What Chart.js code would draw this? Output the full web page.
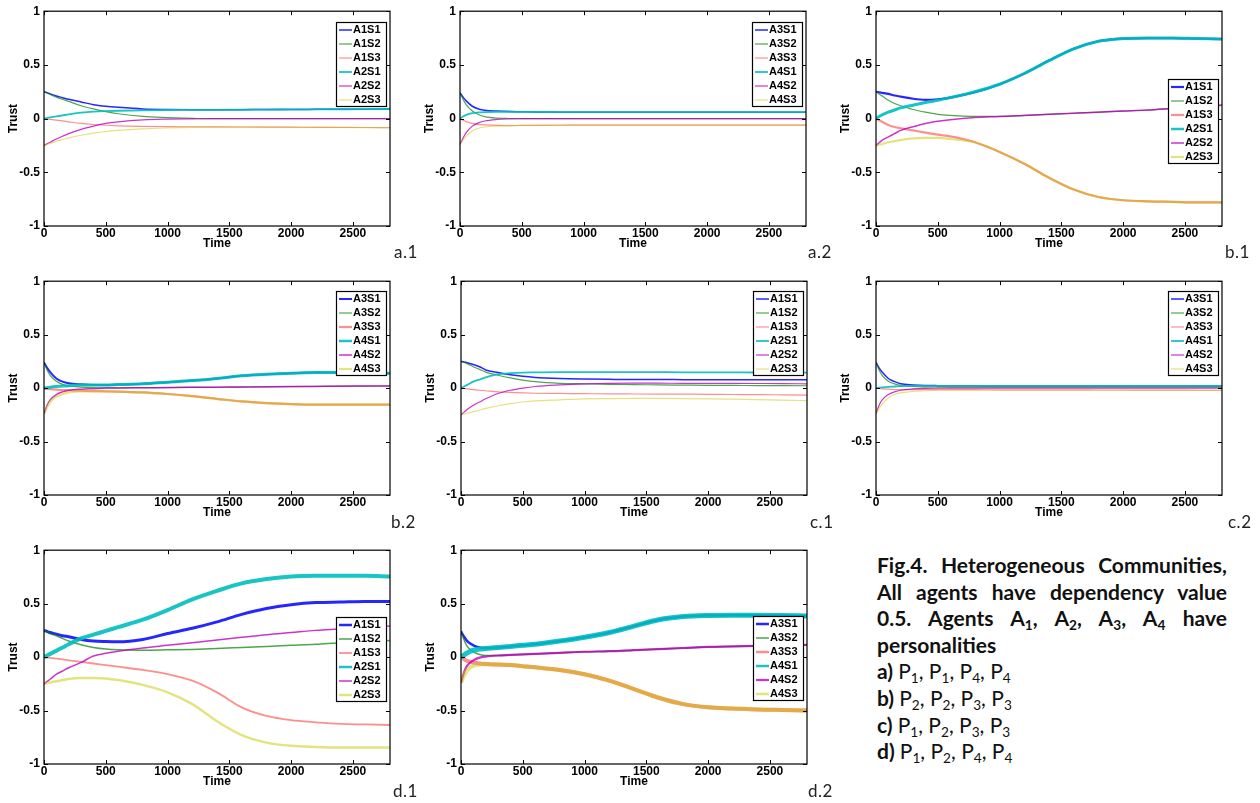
<!DOCTYPE html>
<html>
<head>
<meta charset="utf-8">
<title>Fig.4 Heterogeneous Communities</title>
<script src="https://cdn.jsdelivr.net/npm/chart.js@4.4.1/dist/chart.umd.min.js"></script>
<style>
  html, body { margin: 0; padding: 0; background: #fff; }
  #page { position: relative; width: 1260px; height: 803px; overflow: hidden; }
  #page canvas { position: absolute; }
  .tag { position: absolute; font: 17px "Lato", sans-serif; color: #222; line-height: 1; letter-spacing: 0.5px; }
  #caption { position: absolute; left: 877px; top: 552px; width: 350px; font: bold 21px "Lato", sans-serif; line-height: 26.6px; color: #111; }
  #caption .j { text-align: justify; text-align-last: justify; }
  #caption .n { font-weight: normal; }
  #caption sub { font-size: 0.65em; vertical-align: -0.3em; line-height: 0; }
</style>
</head>
<body>
<div id="page">
  <div id="caption">
    <div class="j">Fig.4. Heterogeneous Communities,</div>
    <div class="j">All agents have dependency value</div>
    <div class="j">0.5. Agents A<sub>1</sub>, A<sub>2</sub>, A<sub>3</sub>, A<sub>4</sub> have</div>
    <div>personalities</div>
    <div>a) <span class="n">P<sub>1</sub>, P<sub>1</sub>, P<sub>4</sub>, P<sub>4</sub></span></div>
    <div>b) <span class="n">P<sub>2</sub>, P<sub>2</sub>, P<sub>3</sub>, P<sub>3</sub></span></div>
    <div>c) <span class="n">P<sub>1</sub>, P<sub>2</sub>, P<sub>3</sub>, P<sub>3</sub></span></div>
    <div>d) <span class="n">P<sub>1</sub>, P<sub>2</sub>, P<sub>4</sub>, P<sub>4</sub></span></div>
  </div>
</div>
<script>
// === DATA ===
const times = [0, 25, 50, 100, 150, 200, 300, 400, 500, 600, 800, 1000, 1200, 1400, 1600, 1800, 2000, 2200, 2400, 2600, 2800];
const timeTicks = [0, 500, 1000, 1500, 2000, 2500];
const trustTicks = [-1, -0.5, 0, 0.5, 1];

const namesA12 = ["A1S1", "A1S2", "A1S3", "A2S1", "A2S2", "A2S3"];
const namesA34 = ["A3S1", "A3S2", "A3S3", "A4S1", "A4S2", "A4S3"];

const trustA1 = [
  [0.25, 0.24, 0.23, 0.21, 0.195, 0.18, 0.155, 0.13, 0.115, 0.105, 0.09, 0.085, 0.083, 0.083, 0.083, 0.085, 0.085, 0.086, 0.087, 0.088, 0.09],
  [0.25, 0.24, 0.225, 0.2, 0.18, 0.16, 0.12, 0.09, 0.065, 0.045, 0.02, 0.01, 0.003, 0, 0, 0, 0, 0, 0, 0, 0],
  [0, -0.004, -0.008, -0.015, -0.022, -0.03, -0.045, -0.055, -0.062, -0.067, -0.072, -0.075, -0.076, -0.077, -0.078, -0.079, -0.08, -0.081, -0.082, -0.083, -0.085],
  [0, 0.006, 0.011, 0.02, 0.03, 0.04, 0.055, 0.065, 0.07, 0.073, 0.077, 0.08, 0.081, 0.082, 0.083, 0.084, 0.085, 0.086, 0.087, 0.088, 0.09],
  [-0.25, -0.235, -0.22, -0.19, -0.165, -0.14, -0.1, -0.07, -0.045, -0.03, -0.012, -0.005, -0.002, 0, 0, 0, 0, 0, 0, 0, 0],
  [-0.25, -0.24, -0.232, -0.21, -0.195, -0.18, -0.155, -0.135, -0.12, -0.11, -0.095, -0.087, -0.082, -0.08, -0.08, -0.08, -0.081, -0.082, -0.083, -0.084, -0.085]
];

const trustA2 = [
  [0.24, 0.2, 0.165, 0.115, 0.09, 0.078, 0.07, 0.066, 0.064, 0.062, 0.06, 0.06, 0.06, 0.06, 0.06, 0.06, 0.06, 0.06, 0.06, 0.06, 0.06],
  [0.24, 0.18, 0.13, 0.07, 0.038, 0.018, 0.004, 0.001, 0, 0, 0, 0, 0, 0, 0, 0, 0, 0, 0, 0, 0],
  [0, -0.015, -0.028, -0.045, -0.054, -0.059, -0.064, -0.065, -0.064, -0.063, -0.062, -0.06, -0.06, -0.06, -0.06, -0.06, -0.06, -0.06, -0.06, -0.06, -0.06],
  [0, 0.02, 0.034, 0.05, 0.057, 0.061, 0.064, 0.064, 0.063, 0.062, 0.061, 0.06, 0.06, 0.06, 0.06, 0.06, 0.06, 0.06, 0.06, 0.06, 0.06],
  [-0.24, -0.18, -0.13, -0.07, -0.04, -0.022, -0.008, -0.003, -0.001, 0, 0, 0, 0, 0, 0, 0, 0, 0, 0, 0, 0],
  [-0.24, -0.2, -0.165, -0.115, -0.09, -0.078, -0.07, -0.066, -0.064, -0.062, -0.061, -0.06, -0.06, -0.06, -0.06, -0.06, -0.06, -0.06, -0.06, -0.06, -0.06]
];

const trustB1 = [
  [0.25, 0.245, 0.24, 0.23, 0.215, 0.205, 0.185, 0.175, 0.18, 0.195, 0.245, 0.32, 0.42, 0.54, 0.65, 0.72, 0.745, 0.75, 0.75, 0.745, 0.74],
  [0.25, 0.23, 0.21, 0.17, 0.14, 0.12, 0.085, 0.06, 0.04, 0.03, 0.02, 0.02, 0.03, 0.04, 0.05, 0.06, 0.07, 0.08, 0.095, 0.11, 0.125],
  [0, -0.015, -0.03, -0.06, -0.078, -0.09, -0.11, -0.13, -0.15, -0.165, -0.22, -0.31, -0.42, -0.55, -0.66, -0.73, -0.76, -0.77, -0.775, -0.78, -0.78],
  [0, 0.02, 0.035, 0.06, 0.08, 0.1, 0.125, 0.15, 0.17, 0.195, 0.25, 0.32, 0.42, 0.54, 0.65, 0.72, 0.745, 0.75, 0.75, 0.745, 0.74],
  [-0.25, -0.225, -0.2, -0.17, -0.14, -0.11, -0.075, -0.045, -0.025, -0.01, 0.01, 0.02, 0.03, 0.04, 0.05, 0.06, 0.07, 0.08, 0.095, 0.11, 0.125],
  [-0.25, -0.243, -0.237, -0.22, -0.21, -0.2, -0.185, -0.18, -0.18, -0.19, -0.22, -0.31, -0.42, -0.55, -0.66, -0.73, -0.76, -0.77, -0.775, -0.78, -0.78]
];

const trustB2 = [
  [0.24, 0.19, 0.15, 0.09, 0.06, 0.045, 0.035, 0.03, 0.03, 0.033, 0.04, 0.055, 0.07, 0.09, 0.115, 0.13, 0.14, 0.145, 0.145, 0.145, 0.14],
  [0.24, 0.17, 0.12, 0.065, 0.035, 0.02, 0.01, 0.005, 0.003, 0.003, 0.004, 0.005, 0.007, 0.008, 0.01, 0.012, 0.014, 0.016, 0.018, 0.019, 0.02],
  [0, -0.005, -0.01, -0.015, -0.018, -0.02, -0.025, -0.028, -0.03, -0.033, -0.04, -0.055, -0.075, -0.1, -0.125, -0.14, -0.15, -0.155, -0.155, -0.155, -0.155],
  [0, 0.004, 0.008, 0.014, 0.019, 0.023, 0.028, 0.03, 0.03, 0.033, 0.04, 0.055, 0.07, 0.09, 0.115, 0.13, 0.14, 0.145, 0.145, 0.145, 0.14],
  [-0.24, -0.16, -0.11, -0.06, -0.035, -0.02, -0.01, -0.005, 0, 0.001, 0.003, 0.005, 0.007, 0.008, 0.01, 0.012, 0.014, 0.016, 0.018, 0.019, 0.02],
  [-0.24, -0.18, -0.13, -0.08, -0.055, -0.04, -0.03, -0.03, -0.03, -0.033, -0.04, -0.055, -0.075, -0.1, -0.125, -0.14, -0.15, -0.155, -0.155, -0.155, -0.155]
];

const trustC1 = [
  [0.25, 0.245, 0.238, 0.22, 0.2, 0.17, 0.145, 0.125, 0.11, 0.1, 0.09, 0.085, 0.082, 0.08, 0.08, 0.079, 0.078, 0.078, 0.077, 0.077, 0.077],
  [0.25, 0.24, 0.228, 0.2, 0.175, 0.15, 0.12, 0.095, 0.075, 0.06, 0.045, 0.04, 0.035, 0.033, 0.03, 0.028, 0.026, 0.025, 0.024, 0.023, 0.022],
  [0, -0.004, -0.008, -0.015, -0.02, -0.025, -0.035, -0.04, -0.045, -0.048, -0.05, -0.052, -0.054, -0.055, -0.056, -0.057, -0.058, -0.06, -0.061, -0.063, -0.065],
  [0, 0.015, 0.03, 0.06, 0.08, 0.1, 0.13, 0.14, 0.145, 0.147, 0.15, 0.15, 0.15, 0.15, 0.149, 0.148, 0.148, 0.147, 0.146, 0.146, 0.145],
  [-0.25, -0.225, -0.2, -0.16, -0.13, -0.1, -0.05, -0.02, 0, 0.015, 0.03, 0.04, 0.045, 0.046, 0.046, 0.045, 0.045, 0.044, 0.043, 0.042, 0.04],
  [-0.25, -0.242, -0.235, -0.22, -0.205, -0.19, -0.165, -0.145, -0.13, -0.12, -0.11, -0.1, -0.098, -0.097, -0.097, -0.098, -0.1, -0.103, -0.107, -0.112, -0.118]
];

const trustC2 = [
  [0.24, 0.19, 0.15, 0.09, 0.06, 0.04, 0.03, 0.025, 0.023, 0.022, 0.021, 0.02, 0.02, 0.02, 0.02, 0.02, 0.02, 0.02, 0.02, 0.02, 0.02],
  [0.24, 0.17, 0.12, 0.065, 0.04, 0.025, 0.015, 0.012, 0.011, 0.01, 0.01, 0.01, 0.01, 0.01, 0.01, 0.01, 0.01, 0.01, 0.01, 0.01, 0.01],
  [0, -0.004, -0.007, -0.01, -0.013, -0.015, -0.015, -0.015, -0.015, -0.015, -0.015, -0.016, -0.016, -0.017, -0.017, -0.018, -0.018, -0.019, -0.019, -0.02, -0.02],
  [0, 0.004, 0.007, 0.012, 0.015, 0.018, 0.02, 0.02, 0.02, 0.02, 0.02, 0.02, 0.02, 0.02, 0.02, 0.02, 0.02, 0.02, 0.02, 0.02, 0.02],
  [-0.24, -0.16, -0.11, -0.06, -0.035, -0.02, -0.008, -0.003, -0.001, 0, 0, 0, 0, 0, 0, 0, 0, 0, 0, 0, 0],
  [-0.24, -0.19, -0.15, -0.09, -0.06, -0.045, -0.03, -0.025, -0.02, -0.02, -0.02, -0.02, -0.02, -0.02, -0.02, -0.02, -0.02, -0.02, -0.02, -0.02, -0.02]
];

const trustD1 = [
  [0.25, 0.24, 0.23, 0.215, 0.2, 0.19, 0.165, 0.15, 0.145, 0.143, 0.165, 0.22, 0.27, 0.33, 0.4, 0.455, 0.49, 0.51, 0.515, 0.52, 0.52],
  [0.25, 0.235, 0.22, 0.2, 0.175, 0.15, 0.115, 0.09, 0.075, 0.068, 0.065, 0.068, 0.072, 0.08, 0.09, 0.1, 0.11, 0.12, 0.135, 0.145, 0.155],
  [0, -0.004, -0.008, -0.015, -0.022, -0.03, -0.045, -0.06, -0.075, -0.09, -0.12, -0.16, -0.22, -0.33, -0.47, -0.55, -0.59, -0.61, -0.625, -0.63, -0.635],
  [0, 0.015, 0.03, 0.06, 0.09, 0.12, 0.175, 0.21, 0.245, 0.28, 0.35, 0.44, 0.54, 0.62, 0.69, 0.73, 0.755, 0.76, 0.76, 0.76, 0.755],
  [-0.25, -0.228, -0.207, -0.16, -0.13, -0.1, -0.05, 0.01, 0.035, 0.055, 0.085, 0.11, 0.135, 0.16, 0.185, 0.21, 0.23, 0.25, 0.265, 0.278, 0.29],
  [-0.25, -0.243, -0.237, -0.225, -0.215, -0.205, -0.195, -0.195, -0.2, -0.215, -0.26, -0.33, -0.44, -0.6, -0.73, -0.8, -0.83, -0.84, -0.845, -0.845, -0.845]
];

const trustD2 = [
  [0.24, 0.19, 0.15, 0.11, 0.09, 0.085, 0.09, 0.1, 0.11, 0.12, 0.15, 0.185, 0.23, 0.29, 0.35, 0.38, 0.39, 0.392, 0.392, 0.39, 0.385],
  [0.24, 0.16, 0.1, 0.05, 0.025, 0.015, 0.015, 0.02, 0.025, 0.03, 0.04, 0.05, 0.055, 0.065, 0.075, 0.085, 0.095, 0.1, 0.105, 0.11, 0.115],
  [0, -0.02, -0.035, -0.05, -0.06, -0.065, -0.07, -0.075, -0.085, -0.095, -0.12, -0.16, -0.22, -0.3, -0.38, -0.44, -0.47, -0.48, -0.49, -0.495, -0.5],
  [0, 0.02, 0.04, 0.065, 0.075, 0.08, 0.09, 0.1, 0.11, 0.12, 0.15, 0.185, 0.23, 0.29, 0.35, 0.38, 0.39, 0.392, 0.392, 0.39, 0.385],
  [-0.24, -0.14, -0.08, -0.03, -0.005, 0.005, 0.015, 0.02, 0.025, 0.03, 0.04, 0.05, 0.055, 0.065, 0.075, 0.085, 0.095, 0.1, 0.105, 0.11, 0.115],
  [-0.24, -0.17, -0.12, -0.08, -0.07, -0.068, -0.07, -0.075, -0.085, -0.095, -0.12, -0.16, -0.22, -0.3, -0.38, -0.44, -0.47, -0.48, -0.49, -0.495, -0.5]
];

// === STYLE ===
const seriesColors = [
  "rgba(0, 0, 255, 0.85)",
  "rgba(0, 128, 0, 0.7)",
  "rgba(255, 50, 50, 0.55)",
  "rgba(0, 190, 190, 0.9)",
  "rgba(190, 0, 190, 0.8)",
  "rgba(200, 200, 0, 0.5)"
];
const thin = [1.5, 1.2, 1.2, 1.8, 1.2, 1.2];
const tickFont = { family: "'Liberation Sans', Arial, sans-serif", size: 12, weight: "bold" };

// plot box = [left, top, right, bottom] in page pixels
const panels = [
  { tag: "a.1", names: namesA12, values: trustA1, box: [44, 8, 390, 226], legendTop: 11, widths: thin, tagAt: [394, 243] },
  { tag: "a.2", names: namesA34, values: trustA2, box: [460, 8, 806, 226], legendTop: 11, widths: thin, tagAt: [808, 243] },
  { tag: "b.1", names: namesA12, values: trustB1, box: [876, 8, 1222, 226], legendTop: 68, widths: [2.2, 1.2, 2.2, 3, 1.5, 2.2], tagAt: [1225, 243] },
  { tag: "b.2", names: namesA34, values: trustB2, box: [44, 278, 390, 495], legendTop: 10, widths: [2, 1.2, 2.2, 3, 1.5, 2.2], tagAt: [391, 513] },
  { tag: "c.1", names: namesA12, values: trustC1, box: [461, 278, 807, 495], legendTop: 10, widths: thin, tagAt: [810, 513] },
  { tag: "c.2", names: namesA34, values: trustC2, box: [876, 278, 1222, 495], legendTop: 10, widths: thin, tagAt: [1228, 513] },
  { tag: "d.1", names: namesA12, values: trustD1, box: [44, 547, 390, 764], legendTop: 67, widths: [3, 1.5, 1.8, 4, 1.5, 2.5], tagAt: [393, 782] },
  { tag: "d.2", names: namesA34, values: trustD2, box: [461, 547, 807, 764], legendTop: 66, widths: [2.5, 1.5, 4, 5, 2.2, 4], tagAt: [808, 782] }
];

// === PLUGINS ===
const frameTicks = {
  id: "frameTicks",
  afterDraw(chart) {
    const { ctx, chartArea: a, scales } = chart;
    const line = (x1, y1, x2, y2) => { ctx.beginPath(); ctx.moveTo(x1, y1); ctx.lineTo(x2, y2); ctx.stroke(); };
    ctx.save();
    ctx.strokeStyle = "#000";
    ctx.lineWidth = 1.2;
    ctx.strokeRect(a.left, a.top, a.right - a.left, a.bottom - a.top);
    ctx.lineWidth = 1;
    scales.x.ticks.forEach(t => {
      const px = Math.round(scales.x.getPixelForValue(t.value)) + 0.5;
      line(px, a.bottom, px, a.bottom - 4);
      line(px, a.top, px, a.top + 4);
    });
    scales.y.ticks.forEach(t => {
      const py = Math.round(scales.y.getPixelForValue(t.value)) + 0.5;
      line(a.left, py, a.left + 4, py);
      line(a.right, py, a.right - 4, py);
    });
    ctx.restore();
  }
};

const boxLegend = {
  id: "boxLegend",
  afterDatasetsDraw(chart, args, opts) {
    const { ctx, chartArea: a } = chart;
    const sets = chart.data.datasets;
    const rowH = 14, w = 50, h = rowH * sets.length;
    const x = Math.round(a.right - 4 - w), y = Math.round(a.top + opts.top);
    ctx.save();
    ctx.fillStyle = "#fff";
    ctx.fillRect(x, y, w, h);
    ctx.strokeStyle = "#000";
    ctx.lineWidth = 1.2;
    ctx.strokeRect(x + 0.5, y + 0.5, w, h);
    ctx.font = "bold 11px 'Liberation Sans', Arial, sans-serif";
    ctx.textBaseline = "middle";
    sets.forEach((ds, i) => {
      const cy = y + rowH * i + rowH / 2 + 1;
      ctx.strokeStyle = ds.borderColor;
      ctx.lineWidth = Math.min(ds.borderWidth, 2.5);
      ctx.beginPath();
      ctx.moveTo(x + 3, cy);
      ctx.lineTo(x + 16, cy);
      ctx.stroke();
      ctx.fillStyle = "#000";
      ctx.fillText(ds.label, x + 17, cy);
    });
    ctx.restore();
  }
};

// === BUILD ===
const page = document.getElementById("page");
const AXIS_W = 44, AXIS_H = 25, PAD_TOP = 8, PAD_RIGHT = 20;

function buildPanel(p) {
  const [l, t, r, b] = p.box;
  const canvas = document.createElement("canvas");
  canvas.width = r - l + AXIS_W + PAD_RIGHT;
  canvas.height = b - t + PAD_TOP + AXIS_H;
  canvas.style.left = (l - AXIS_W) + "px";
  canvas.style.top = (t - PAD_TOP) + "px";
  page.appendChild(canvas);

  const tag = document.createElement("div");
  tag.className = "tag";
  tag.textContent = p.tag;
  tag.style.left = p.tagAt[0] + "px";
  tag.style.top = p.tagAt[1] + "px";
  page.appendChild(tag);

  // later series drawn on top, like the original plot
  const datasets = p.names.map((name, i) => ({
    label: name,
    data: times.map((x, k) => ({ x, y: p.values[i][k] })),
    borderColor: seriesColors[i],
    borderWidth: p.widths[i],
    order: p.names.length - i,
    pointRadius: 0,
    cubicInterpolationMode: "monotone",
    fill: false
  }));

  new Chart(canvas, {
    type: "line",
    data: { datasets },
    options: {
      responsive: false,
      animation: false,
      events: [],
      layout: { padding: { left: 0, top: PAD_TOP, right: PAD_RIGHT, bottom: 0 } },
      plugins: {
        legend: { display: false },
        tooltip: { enabled: false },
        boxLegend: { top: p.legendTop }
      },
      scales: {
        x: {
          type: "linear",
          min: 0,
          max: 2800,
          afterBuildTicks: s => { s.ticks = timeTicks.map(v => ({ value: v })); },
          afterFit: s => { s.height = AXIS_H; },
          ticks: { padding: 0, color: "#000", font: tickFont, maxRotation: 0, autoSkip: false, callback: v => String(v) },
          grid: { display: false, drawTicks: false },
          border: { display: false },
          title: { display: true, text: "Time", color: "#000", font: tickFont, padding: 0 }
        },
        y: {
          type: "linear",
          min: -1,
          max: 1,
          afterBuildTicks: s => { s.ticks = trustTicks.map(v => ({ value: v })); },
          afterFit: s => { s.width = AXIS_W; },
          ticks: { padding: 4, color: "#000", font: tickFont, autoSkip: false, callback: v => String(v) },
          grid: { display: false, drawTicks: false },
          border: { display: false },
          title: { display: true, text: "Trust", color: "#000", font: tickFont, padding: { top: 6, bottom: 0 } }
        }
      }
    },
    plugins: [frameTicks, boxLegend]
  });
}

panels.forEach(buildPanel);
</script>
</body>
</html>
